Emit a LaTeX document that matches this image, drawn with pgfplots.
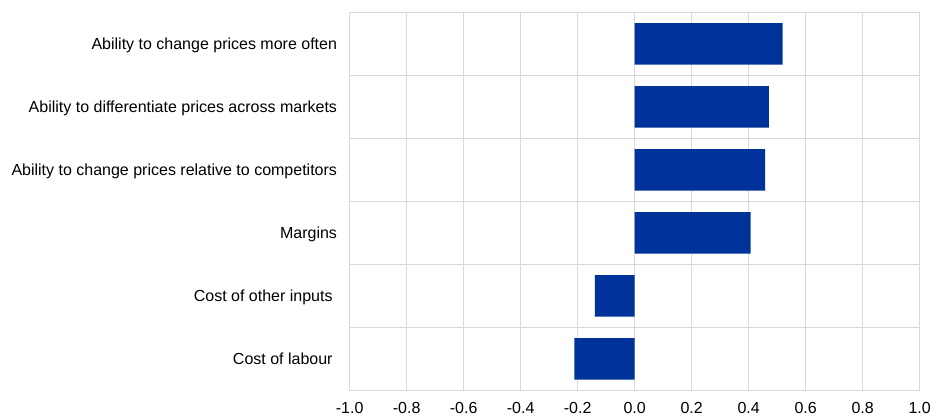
\documentclass[border=0pt]{standalone}
\usepackage{pgfplots}
\pgfplotsset{compat=1.18}
\usepackage{fontspec}
\setmainfont{Liberation Sans}
\definecolor{ecbblue}{RGB}{0,51,153}
\definecolor{gridgray}{RGB}{217,217,217}
\begin{document}
\begin{tikzpicture}
\path (-349.7pt,-29.7pt) rectangle (589.3pt,390.3pt);
\begin{axis}[
  at={(0pt,0pt)}, anchor=south west,
  scale only axis, width=570pt, height=378pt,
  xmin=-1, xmax=1, ymin=-0.5, ymax=5.5,
  xtick={-1,-0.8,-0.6,-0.4,-0.2,0,0.2,0.4,0.6,0.8,1},
  ytick={0,1,2,3,4,5},
  yticklabels={{Cost of labour\kern4.4pt},{Cost of other inputs\kern4.4pt},{Margins},{Ability to change prices relative to competitors},{Ability to differentiate prices across markets},{Ability to change prices more often}},
  minor ytick={-0.5,0.5,1.5,2.5,3.5,4.5,5.5},
  xmajorgrids, yminorgrids,
  grid style={gridgray, line width=0.8pt},
  minor grid style={gridgray, line width=0.8pt},
  axis line style={gridgray, line width=0.8pt},
  major tick length=0pt, minor tick length=0pt,
  tick style={draw=none},
  /pgf/number format/fixed,
  /pgf/number format/fixed zerofill,
  /pgf/number format/precision=1,
  /pgf/number format/assume math mode=true,
  xticklabel style={font=\fontsize{16}{19}\selectfont, inner sep=0pt, anchor=north, yshift=-12pt},
  yticklabel style={font=\fontsize{16}{19}\selectfont, inner sep=0pt, anchor=base east, xshift=-12.5pt, yshift=-6pt},
]
\addplot[xbar, fill=ecbblue, draw=none, bar width=0.66] coordinates {
  (-0.212,0) (-0.140,1) (0.407,2) (0.458,3) (0.471,4) (0.519,5)
};
\end{axis}
\end{tikzpicture}
\end{document}
